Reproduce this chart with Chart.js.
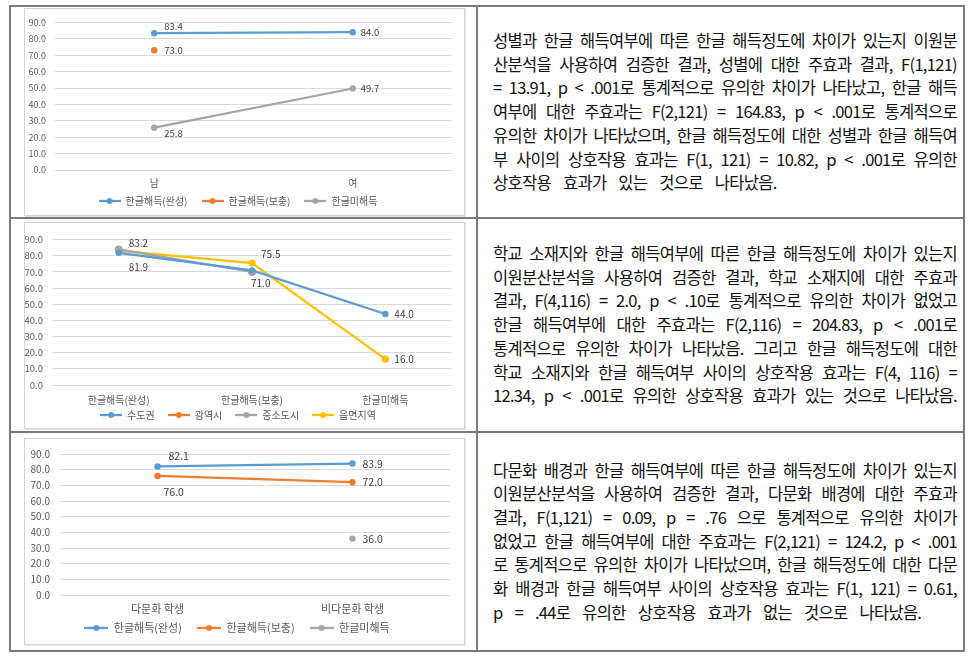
<!DOCTYPE html>
<html><head><meta charset="utf-8">
<script src="https://cdn.jsdelivr.net/npm/chart.js@4.4.1/dist/chart.umd.min.js"></script>
<style>
body{margin:0;width:972px;height:656px;background:#fff;position:relative;overflow:hidden;font-family:"Noto Sans CJK KR",sans-serif;}
.hl{position:absolute;background:#7a7a7a;height:2px}
.vl{position:absolute;background:#7a7a7a;width:2px}
.box{position:absolute;border:1px solid #d4d4d4;box-shadow:1px 1px 0 #e4e4e4;background:#fff;box-sizing:border-box}
.cell{position:absolute;left:493px;width:464px;display:flex;align-items:center}
.txt{width:464px;font-size:16.5px;letter-spacing:-0.7px;word-spacing:0px;line-height:23.7px;color:#111}
.txt div{text-align:justify;text-align-last:justify}
.txt div.last{text-align-last:left;word-spacing:9px}
canvas{position:absolute}
</style></head><body>
<div class="hl" style="left:9px;width:956px;top:5px"></div>
<div class="hl" style="left:9px;width:956px;top:217px"></div>
<div class="hl" style="left:9px;width:956px;top:431px"></div>
<div class="hl" style="left:9px;width:956px;top:650px"></div>
<div class="vl" style="left:9px;top:5px;height:647px"></div>
<div class="vl" style="left:476px;top:5px;height:647px"></div>
<div class="vl" style="left:963px;top:5px;height:647px"></div>

<div class="box" style="left:24px;top:8px;width:441px;height:208px"></div>
<div class="box" style="left:24px;top:222px;width:441px;height:207px"></div>
<div class="box" style="left:24px;top:438px;width:441px;height:207px"></div>

<canvas id="c1" width="440" height="218" style="left:24px;top:8px"></canvas>
<canvas id="c2" width="440" height="215" style="left:24px;top:225px"></canvas>
<canvas id="c3" width="440" height="215" style="left:24px;top:438px"></canvas>

<div class="cell" style="top:7px;height:210px"><div class="txt">
<div>성별과 한글 해득여부에 따른 한글 해득정도에 차이가 있는지 이원분</div>
<div>산분석을 사용하여 검증한 결과, 성별에 대한 주효과 결과, F(1,121)</div>
<div>= 13.91, p &lt; .001로 통계적으로 유의한 차이가 나타났고, 한글 해득</div>
<div>여부에 대한 주효과는 F(2,121) = 164.83, p &lt; .001로 통계적으로</div>
<div>유의한 차이가 나타났으며, 한글 해득정도에 대한 성별과 한글 해득여</div>
<div>부 사이의 상호작용 효과는 F(1, 121) = 10.82, p &lt; .001로 유의한</div>
<div class="last">상호작용 효과가 있는 것으로 나타났음.</div>
</div></div>

<div class="cell" style="top:219px;height:212px"><div class="txt">
<div>학교 소재지와 한글 해득여부에 따른 한글 해득정도에 차이가 있는지</div>
<div>이원분산분석을 사용하여 검증한 결과, 학교 소재지에 대한 주효과</div>
<div>결과, F(4,116) = 2.0, p &lt; .10로 통계적으로 유의한 차이가 없었고</div>
<div>한글 해득여부에 대한 주효과는 F(2,116) = 204.83, p &lt; .001로</div>
<div>통계적으로 유의한 차이가 나타났음. 그리고 한글 해득정도에 대한</div>
<div>학교 소재지와 한글 해득여부 사이의 상호작용 효과는 F(4, 116) =</div>
<div>12.34, p &lt; .001로 유의한 상호작용 효과가 있는 것으로 나타났음.</div>
</div></div>

<div class="cell" style="top:433px;height:217px"><div class="txt">
<div>다문화 배경과 한글 해득여부에 따른 한글 해득정도에 차이가 있는지</div>
<div>이원분산분석을 사용하여 검증한 결과, 다문화 배경에 대한 주효과</div>
<div>결과, F(1,121) = 0.09, p = .76 으로 통계적으로 유의한 차이가</div>
<div>없었고 한글 해득여부에 대한 주효과는 F(2,121) = 124.2, p &lt; .001</div>
<div>로 통계적으로 유의한 차이가 나타났으며, 한글 해득정도에 대한 다문</div>
<div>화 배경과 한글 해득여부 사이의 상호작용 효과는 F(1, 121) = 0.61,</div>
<div class="last">p = .44로 유의한 상호작용 효과가 없는 것으로 나타났음.</div>
</div></div>

<script>
// ---- data ----
const cat1 = ['남', '여'];
const ser1 = ['한글해득(완성)', '한글해득(보충)', '한글미해득'];
const s1Complete = [83.4, 84.0];
const s1Supp = [73.0, null];
const s1None = [25.8, 49.7];

const cat2 = ['한글해득(완성)', '한글해득(보충)', '한글미해득'];
const ser2 = ['수도권', '광역시', '중소도시', '읍면지역'];
const s2Capital = [81.9, 71.0, 44.0];
const s2Metro = [null, null, null];
const s2City = [84.0, 70.0, null];
const s2Rural = [83.2, 75.5, 16.0];

const cat3 = ['다문화 학생', '비다문화 학생'];
const ser3 = ['한글해득(완성)', '한글해득(보충)', '한글미해득'];
const s3Complete = [82.1, 83.9];
const s3Supp = [76.0, 72.0];
const s3None = [null, 36.0];

const yMin = 0, yMax = 90, yStep = 10;

// ---- style ----
const BLUE = '#5B9BD5', ORANGE = '#ED7D31', GRAY = '#A5A5A5', YELLOW = '#FFC000';
const FONT = '"Noto Sans CJK KR", sans-serif';

function legendIcon(color, w) {
  const c = document.createElement('canvas');
  c.width = w; c.height = 8;
  const x = c.getContext('2d');
  x.strokeStyle = color; x.lineWidth = 2.25;
  x.beginPath(); x.moveTo(0, 4); x.lineTo(w, 4); x.stroke();
  x.fillStyle = color; x.beginPath(); x.arc(w / 2, 4, 3, 0, Math.PI * 2); x.fill();
  return c;
}

const labelPlugin = {
  id: 'pointLabels',
  afterLayout(chart, args, opts) {
    // move the legend row to its vertical position
    const l = chart.legend;
    if (!l || opts.legendCenter == null) return;
    const lab = l.options.labels;
    const ih = lab.font.size * 1.2;
    const dy = opts.legendCenter - (l.top + lab.padding + ih / 2);
    l.top += dy; l.bottom += dy;
  },
  afterDatasetsDraw(chart, args, opts) {
    const ctx = chart.ctx;
    ctx.save();
    ctx.font = opts.size + 'px ' + FONT;
    ctx.fillStyle = '#404040';
    ctx.textBaseline = 'middle';
    ctx.textAlign = 'left';
    (opts.items || []).forEach(it => {
      const el = chart.getDatasetMeta(it.ds).data[it.i];
      const v = chart.data.datasets[it.ds].data[it.i];
      if (!el || v == null) return;
      ctx.fillText(v.toFixed(1), el.x + it.dx, el.y + it.dy);
    });
    ctx.restore();
  }
};

function ds(label, data, color, r) {
  return {
    label, data, borderColor: color, backgroundColor: color,
    pointBackgroundColor: color, pointBorderColor: color,
    borderWidth: 2.25, pointRadius: r || 3.2, pointBorderWidth: 0, tension: 0
  };
}

function makeChart(id, cats, datasets, g) {
  new Chart(document.getElementById(id), {
    type: 'line',
    data: { labels: cats, datasets },
    plugins: [labelPlugin],
    options: {
      responsive: false, animation: false,
      layout: { padding: { top: g.padTop, right: g.padRight, left: 0, bottom: 0 } },
      scales: {
        y: {
          min: yMin, max: yMax,
          ticks: { stepSize: yStep, padding: g.yPad, color: '#595959',
                   font: { family: FONT, size: g.tick }, callback: v => v.toFixed(1) },
          grid: { color: '#d9d9d9', drawTicks: false },
          border: { display: false },
          afterFit: s => { s.width = g.yW; }
        },
        x: {
          offset: true,
          ticks: { padding: g.xPad, color: '#595959', font: { family: FONT, size: g.cat } },
          grid: { display: false, drawTicks: false },
          border: { display: false },
          afterFit: s => { s.height = g.xH; }
        }
      },
      plugins: {
        tooltip: { enabled: false },
        legend: {
          position: 'bottom',
          labels: {
            color: '#595959', font: { family: FONT, size: g.leg },
            padding: g.legPad, usePointStyle: true, pointStyleWidth: g.iconW,
            generateLabels: ch => Chart.defaults.plugins.legend.labels.generateLabels(ch)
              .map(l => Object.assign(l, { pointStyle: legendIcon(l.strokeStyle, g.iconW) }))
          }
        },
        pointLabels: { size: g.lab, items: g.items, legendCenter: g.legC }
      }
    }
  });
}

makeChart('c1', cat1, [
  ds(ser1[0], s1Complete, BLUE), ds(ser1[1], s1Supp, ORANGE), ds(ser1[2], s1None, GRAY)
], { padTop: 10, padRight: 12, yW: 31, yPad: 9, tick: 9, cat: 10, xH: 22, xPad: 7,
     leg: 10, legPad: 14, iconW: 22, lab: 9.5, legC: 194,
     items: [ {ds:0,i:0,dx:10,dy:-7}, {ds:0,i:1,dx:8,dy:0}, {ds:1,i:0,dx:10,dy:0},
              {ds:2,i:0,dx:10,dy:6}, {ds:2,i:1,dx:8,dy:0} ] });

makeChart('c2', cat2, [
  ds(ser2[0], s2Capital, BLUE), ds(ser2[1], s2Metro, ORANGE), ds(ser2[2], s2City, GRAY, 4), ds(ser2[3], s2Rural, YELLOW, 3.6)
], { padTop: 10, padRight: 12, yW: 28, yPad: 9, tick: 9.5, cat: 10, xH: 22, xPad: 9,
     leg: 10, legPad: 13, iconW: 22, lab: 10, legC: 191,
     items: [ {ds:3,i:0,dx:10,dy:-7}, {ds:0,i:0,dx:10,dy:14}, {ds:3,i:1,dx:9,dy:-9},
              {ds:0,i:1,dx:-1,dy:13}, {ds:0,i:2,dx:9,dy:0}, {ds:3,i:2,dx:9,dy:0} ] });

makeChart('c3', cat3, [
  ds(ser3[0], s3Complete, BLUE), ds(ser3[1], s3Supp, ORANGE), ds(ser3[2], s3None, GRAY)
], { padTop: 10, padRight: 14, yW: 36, yPad: 10, tick: 10, cat: 11, xH: 22, xPad: 7,
     leg: 11, legPad: 15, iconW: 24, lab: 10.5, legC: 191,
     items: [ {ds:0,i:0,dx:11,dy:-10}, {ds:0,i:1,dx:10,dy:0}, {ds:1,i:0,dx:6,dy:16},
              {ds:1,i:1,dx:10,dy:0}, {ds:2,i:1,dx:10,dy:0} ] });
</script>
</body></html>
